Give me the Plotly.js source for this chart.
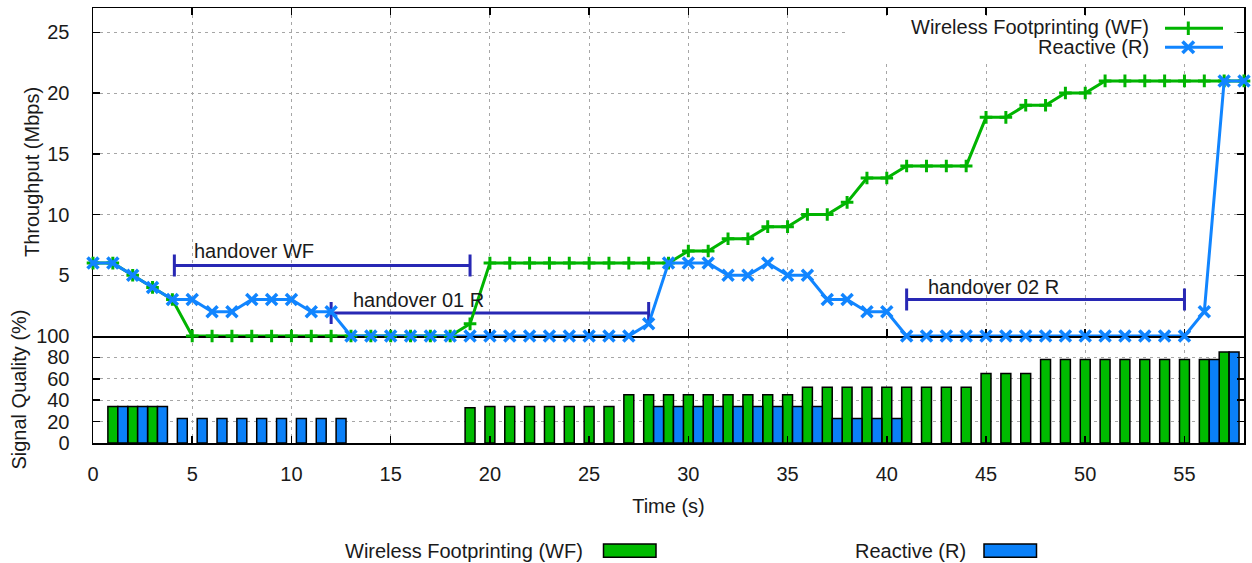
<!DOCTYPE html>
<html><head><meta charset="utf-8">
<script src="https://cdn.plot.ly/plotly-3.0.1.min.js"></script>
<style>html,body{margin:0;padding:0;background:#fff}#chart{width:1252px;height:563px}</style>
</head><body><div id="chart"></div>
<script>
// ---------- data ----------
const timeS = [0,1,2,3,4,5,6,7,8,9,10,11,12,13,14,15,16,17,18,19,20,21,22,23,24,25,26,27,28,29,30,31,32,33,34,35,36,37,38,39,40,41,42,43,44,45,46,47,48,49,50,51,52,53,54,55,56,57,58];
const throughputWF = [6,6,5,4,3,0,0,0,0,0,0,0,0,0,0,0,0,0,0,1,6,6,6,6,6,6,6,6,6,6,7,7,8,8,9,9,10,10,11,13,13,14,14,14,14,18,18,19,19,20,20,21,21,21,21,21,21,21,21];
const throughputR  = [6,6,5,4,3,3,2,2,3,3,3,2,2,0,0,0,0,0,0,0,0,0,0,0,0,0,0,0,1,6,6,6,5,5,6,5,5,3,3,2,2,0,0,0,0,0,0,0,0,0,0,0,0,0,0,0,2,21,21];

const signalTimeWF = [1,2,3,19,20,21,22,23,24,25,26,27,28,29,30,31,32,33,34,35,36,37,38,39,40,41,42,43,44,45,46,47,48,49,50,51,52,53,54,55,56,57];
const signalWF     = [34,34,34,33,34,34,34,34,34,34,34,45,45,45,45,45,45,45,45,45,52,52,52,52,52,52,52,52,52,65,65,65,78,78,78,78,78,78,78,78,78,85];
const signalTimeR  = [1,2,3,4,5,6,7,8,9,10,11,12,28,29,30,31,32,33,34,35,36,37,38,39,40,56,57];
const signalR      = [34,34,34,23,23,23,23,23,23,23,23,23,34,34,34,34,34,34,34,34,34,23,23,23,23,78,85];

const handoverLabels = ['handover WF','handover 01 R','handover 02 R'];
const handoverStart  = [4.1,12,41];
const handoverEnd    = [19,28,55];
const handoverLevel  = [5.8,1.9,3];

const throughputTicks = [5,10,15,20,25];
const signalTicks = [0,20,40,60,80,100];
const seriesNames = ['Wireless Footprinting (WF)','Reactive (R)'];

// ---------- styles ----------
const GREEN_LINE = '#00b400', BLUE_LINE = '#1185ff';
const GREEN_BAR = '#00bb00', BLUE_BAR = '#0a80f8';
const HANDOVER = '#2828b4';
const TXT = '#1a1a1a';
const FONT = 'Liberation Sans, Arial, sans-serif';
const W = 1252, H = 563, ML = 93, MR = 8, MT = 8, MB = 120;
const px = v => (v - ML) / (W - ML - MR);
const py = v => (H - MB - v) / (H - MB - MT);
const split = (443 - 336) / (443 - 8);

// ---------- traces ----------
// lower panel (signal quality) = x / y ; upper panel (throughput) = x2 / y2 (drawn on top)
const traces = [
  {
    type: 'bar', name: seriesNames[0], x: signalTimeWF, y: signalWF, xaxis: 'x', yaxis: 'y',
    width: 0.5, offset: -0.25, showlegend: false,
    marker: {color: GREEN_BAR, line: {color: '#000', width: 1.5}}
  },
  {
    type: 'bar', name: seriesNames[1], x: signalTimeR, y: signalR, xaxis: 'x', yaxis: 'y',
    width: 0.5, offset: 0.25, showlegend: false,
    marker: {color: BLUE_BAR, line: {color: '#000', width: 1.5}}
  },
  {
    type: 'scatter', mode: 'markers', x: handoverStart, y: handoverLevel,
    xaxis: 'x2', yaxis: 'y2', showlegend: false, hoverinfo: 'skip', cliponaxis: false,
    marker: {size: 1, color: 'rgba(0,0,0,0)'},
    error_x: {type: 'data', symmetric: false,
      array: handoverEnd.map((e, i) => e - handoverStart[i]),
      arrayminus: handoverStart.map(() => 0),
      color: HANDOVER, thickness: 3, width: 11}
  },
  {
    type: 'scatter', mode: 'lines+markers', name: seriesNames[0], x: timeS, y: throughputWF,
    xaxis: 'x2', yaxis: 'y2', cliponaxis: false, showlegend: false,
    line: {color: GREEN_LINE, width: 3},
    marker: {symbol: 'cross-thin', size: 9, color: GREEN_LINE, line: {color: GREEN_LINE, width: 3}}
  },
  {
    type: 'scatter', mode: 'lines+markers', name: seriesNames[1], x: timeS, y: throughputR,
    xaxis: 'x2', yaxis: 'y2', cliponaxis: false, showlegend: false,
    line: {color: BLUE_LINE, width: 3},
    marker: {symbol: 'x-thin', size: 11, color: BLUE_LINE, line: {color: BLUE_LINE, width: 3.5}}
  }
];

// ---------- layout ----------
const axisCommon = {
  showline: true, linecolor: '#000', linewidth: 1.5, mirror: 'ticks',
  ticks: 'inside', ticklen: 7, tickwidth: 1.5, tickcolor: '#000',
  showgrid: true, gridcolor: '#a6a6a6', gridwidth: 1, griddash: '3px,4px',
  zeroline: false, tickfont: {family: FONT, size: 20, color: TXT}
};

const shapes = [
  // top legend background
  {type: 'rect', xref: 'paper', yref: 'paper', x0: px(848), x1: px(1232), y0: py(60), y1: py(16),
   fillcolor: '#fff', line: {width: 0}, layer: 'above'},
  // top legend samples
  {type: 'line', xref: 'paper', yref: 'paper', x0: px(1165), x1: px(1223), y0: py(28.3), y1: py(28.3),
   line: {color: GREEN_LINE, width: 3}, layer: 'above'},
  {type: 'line', xref: 'paper', yref: 'paper', x0: px(1188.3), x1: px(1188.3), y0: py(21.5), y1: py(35),
   line: {color: GREEN_LINE, width: 3}, layer: 'above'},
  {type: 'line', xref: 'paper', yref: 'paper', x0: px(1165), x1: px(1223), y0: py(47.3), y1: py(47.3),
   line: {color: BLUE_LINE, width: 3}, layer: 'above'},
  {type: 'line', xref: 'paper', yref: 'paper', x0: px(1182.5), x1: px(1194), y0: py(41.5), y1: py(53),
   line: {color: BLUE_LINE, width: 3.5}, layer: 'above'},
  {type: 'line', xref: 'paper', yref: 'paper', x0: px(1182.5), x1: px(1194), y0: py(53), y1: py(41.5),
   line: {color: BLUE_LINE, width: 3.5}, layer: 'above'},
  // bottom legend boxes
  {type: 'rect', xref: 'paper', yref: 'paper', x0: px(603.5), x1: px(656), y0: py(557.3), y1: py(544),
   fillcolor: GREEN_BAR, line: {color: '#000', width: 1.5}},
  {type: 'rect', xref: 'paper', yref: 'paper', x0: px(984), x1: px(1036.5), y0: py(557.3), y1: py(544),
   fillcolor: BLUE_BAR, line: {color: '#000', width: 1.5}}
];

const annFont = {family: FONT, size: 20, color: TXT};
const labelOffsetX = [0.9, 1.0, 1.0];
const labelOffsetY = [1.2, 1.1, 1.0];
const annotations = [
  ...handoverLabels.map((t, i) => ({
    text: t, xref: 'x2', yref: 'y2', x: handoverStart[i] + labelOffsetX[i], y: handoverLevel[i] + labelOffsetY[i],
    xanchor: 'left', yanchor: 'middle', showarrow: false, font: annFont
  })),
  {text: seriesNames[0], xref: 'paper', yref: 'paper', x: px(1150), y: py(27.5), xanchor: 'right', yanchor: 'middle', showarrow: false, font: annFont, borderpad: 0},
  {text: seriesNames[1], xref: 'paper', yref: 'paper', x: px(1150), y: py(47), xanchor: 'right', yanchor: 'middle', showarrow: false, font: annFont, borderpad: 0},
  {text: seriesNames[0], xref: 'paper', yref: 'paper', x: px(585), y: py(550.5), xanchor: 'right', yanchor: 'middle', showarrow: false, font: annFont},
  {text: seriesNames[1], xref: 'paper', yref: 'paper', x: px(968), y: py(550.5), xanchor: 'right', yanchor: 'middle', showarrow: false, font: annFont}
];

const titleFont = {family: FONT, size: 20, color: TXT};
const layout = {
  width: W, height: H,
  margin: {l: ML, r: MR, t: MT, b: MB, pad: 0},
  paper_bgcolor: '#fff', plot_bgcolor: 'rgba(0,0,0,0)',
  font: {family: FONT, size: 20, color: TXT},
  showlegend: false, barmode: 'overlay',
  // lower panel
  xaxis: Object.assign({}, axisCommon, {domain: [0, 1], anchor: 'y', range: [0, 58], tick0: 0, dtick: 5, mirror: false,
    ticklabelstandoff: 12, title: {text: 'Time (s)', font: titleFont, standoff: 15}}),
  yaxis: Object.assign({}, axisCommon, {domain: [0, split], anchor: 'x', range: [0, 100], tickvals: signalTicks,
    ticklabelstandoff: 18, title: {text: 'Signal Quality (%)', font: titleFont, standoff: 4}}),
  // upper panel
  xaxis2: Object.assign({}, axisCommon, {domain: [0, 1], anchor: 'y2', range: [0, 58], tick0: 0, dtick: 5,
    showticklabels: false, layer: 'below traces'}),
  yaxis2: Object.assign({}, axisCommon, {domain: [split, 1], anchor: 'x2', range: [0, 27], tickvals: throughputTicks,
    layer: 'below traces', ticklabelstandoff: 18, title: {text: 'Throughput (Mbps)', font: titleFont, standoff: 2}}),
  shapes: shapes,
  annotations: annotations
};

Plotly.newPlot('chart', traces, layout, {staticPlot: true, displayModeBar: false});
</script></body></html>
